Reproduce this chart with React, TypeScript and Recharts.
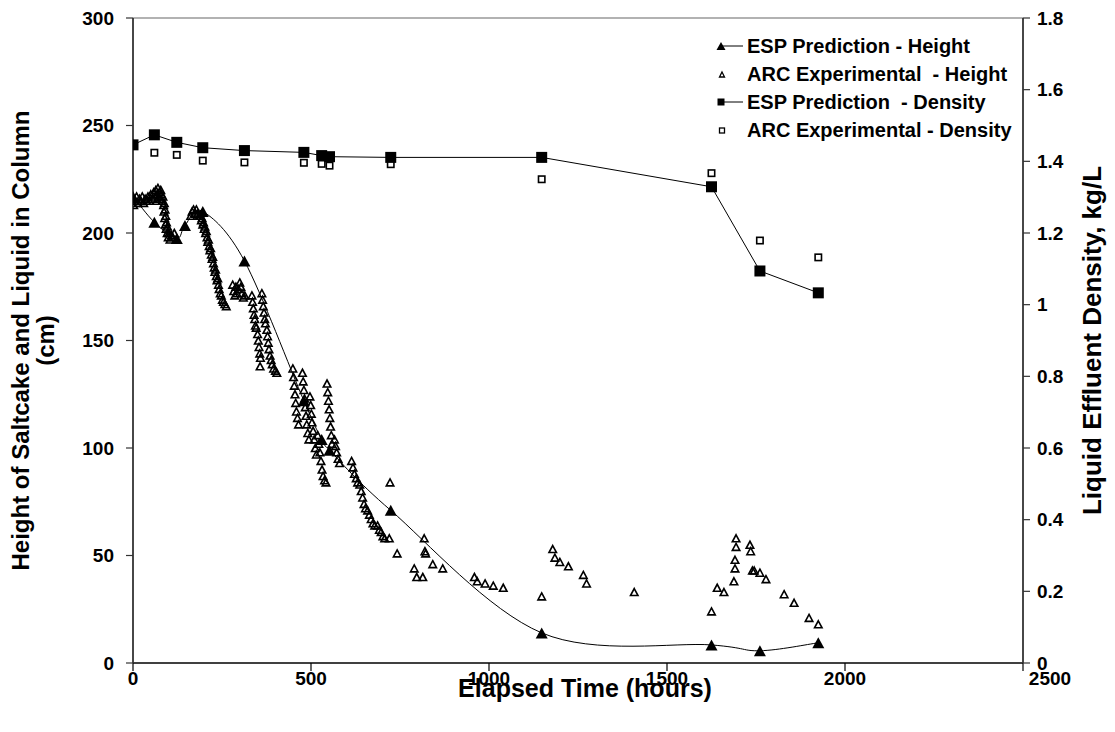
import React from 'react';
import { ComposedChart, XAxis, YAxis, Scatter, Line, Legend, ReferenceLine, Label } from 'recharts';

const FONT = '"Liberation Sans", Arial, Helvetica, sans-serif';

// ---- Data ----
const xTicks = [0, 500, 1000, 1500, 2000, 2500];
const leftTicks = [0, 50, 100, 150, 200, 250, 300];
const rightTicks = [0, 0.2, 0.4, 0.6, 0.8, 1, 1.2, 1.4, 1.6, 1.8];

// ESP Prediction - Height (hours, cm)
const espHeightT = [0, 60, 123, 146, 196, 313, 480, 530, 552, 724, 1148, 1625, 1761, 1925];
const espHeightV = [217, 205, 197.5, 203.5, 210, 187, 122, 104, 99, 71, 14, 8.4, 5.7, 9.4];

// ARC Experimental - Height [hours, cm]
const arcHeightPts: [number, number][] = [
  [0, 216], [2, 213], [6, 215], [10, 217], [14, 214], [18, 216], [22, 215], [26, 217], [30, 214], [34, 216],
  [38, 215], [42, 217], [46, 215], [50, 218], [54, 216], [58, 219], [62, 217], [64, 220], [66, 215], [68, 218],
  [70, 221], [72, 217], [74, 219], [76, 216], [78, 220], [80, 218], [82, 215], [84, 217], [86, 213], [87, 210],
  [88, 214], [89, 207], [90, 211], [91, 204], [92, 208], [93, 202], [94, 205], [96, 200], [97, 203], [99, 198],
  [101, 200], [104, 197], [108, 199], [112, 198], [116, 200],
  [162, 208], [166, 210], [170, 211], [174, 209], [178, 211], [182, 209], [186, 208],
  [190, 208], [192, 206], [194, 207], [196, 204], [198, 205], [200, 202], [202, 203], [204, 200], [206, 201],
  [208, 198], [210, 196], [212, 197], [214, 194], [216, 192], [218, 193], [220, 190], [222, 188], [224, 189],
  [226, 186], [228, 184], [230, 182], [232, 183], [234, 180], [236, 178], [238, 179], [240, 176], [242, 174],
  [245, 172], [248, 171], [251, 169], [254, 168], [258, 167], [262, 166],
  [280, 176], [283, 173], [286, 171], [289, 175], [292, 172], [296, 174], [300, 177], [303, 175], [306, 172],
  [310, 170], [314, 171],
  [334, 171], [336, 168], [338, 165], [340, 162], [342, 160], [344, 157], [346, 156],
  [350, 153], [352, 150], [354, 147], [356, 144], [358, 142], [357, 138],
  [362, 172], [364, 169], [366, 166], [368, 163], [370, 160], [372, 158],
  [376, 155], [378, 152], [380, 149], [382, 146], [385, 143], [388, 141], [391, 139], [395, 137], [400, 136], [404, 135],
  [449, 137], [451, 133], [453, 129], [455, 125], [457, 121], [459, 117], [462, 114], [465, 111],
  [476, 135], [478, 131], [480, 127], [482, 123], [484, 119], [486, 115], [488, 111], [491, 107], [494, 104],
  [497, 124], [499, 120], [501, 116], [503, 112], [506, 108], [509, 104], [512, 100], [515, 97],
  [519, 106], [522, 102], [525, 98], [528, 94], [531, 90], [534, 87], [538, 85], [542, 84],
  [545, 130], [547, 126], [549, 122], [551, 118], [553, 114], [555, 110], [557, 106], [559, 102],
  [566, 104], [569, 101], [572, 98], [576, 95], [580, 93],
  [614, 94], [618, 91], [622, 88], [627, 86], [631, 84],
  [637, 83], [641, 80], [645, 77], [649, 74], [653, 72],
  [659, 71], [664, 69], [669, 67], [674, 65], [679, 64],
  [687, 64], [692, 62], [697, 61], [702, 59], [707, 58],
  [720, 58], [722, 84], [742, 51],
  [790, 44], [797, 40], [814, 40], [818, 58], [820, 52], [822, 51], [842, 46], [870, 44],
  [959, 40], [967, 38], [989, 37], [1012, 36], [1040, 35],
  [1148, 31], [1179, 53], [1185, 49], [1199, 47], [1223, 45], [1265, 41], [1274, 37], [1408, 33],
  [1625, 24], [1641, 35], [1660, 33], [1688, 38], [1691, 44], [1691, 48], [1694, 54], [1694, 58],
  [1733, 55], [1735, 52], [1740, 43], [1745, 43], [1761, 42], [1778, 39], [1829, 32], [1857, 28],
  [1899, 21], [1925, 18],
];

// ESP Prediction - Density (hours, kg/L)
const espDensityT = [0, 60, 123, 196, 313, 480, 530, 552, 724, 1148, 1625, 1761, 1925];
const espDensityV = [1.446, 1.474, 1.453, 1.438, 1.43, 1.425, 1.416, 1.413, 1.411, 1.411, 1.329, 1.094, 1.033];

// ARC Experimental - Density (hours, kg/L)
const arcDensityT = [60, 123, 196, 313, 480, 530, 552, 724, 1148, 1625, 1761, 1925];
const arcDensityV = [1.424, 1.418, 1.402, 1.397, 1.396, 1.393, 1.388, 1.392, 1.35, 1.367, 1.179, 1.132];

const espHeight = espHeightT.map((t, i) => ({ t, h: espHeightV[i] }));
const arcHeight = arcHeightPts.map(([t, h]) => ({ t, h }));
const espDensity = espDensityT.map((t, i) => ({ t, d: espDensityV[i] }));
const arcDensity = arcDensityT.map((t, i) => ({ t, d: arcDensityV[i] }));

// Excel-like smoothing (Catmull-Rom) curve factory
const catmullRom = (context: any) => {
  let pts: number[][] = [];
  return {
    areaStart() {},
    areaEnd() {},
    lineStart() {
      pts = [];
    },
    point(x: number, y: number) {
      pts.push([+x, +y]);
    },
    lineEnd() {
      const n = pts.length;
      if (!n) return;
      context.moveTo(pts[0][0], pts[0][1]);
      for (let i = 0; i < n - 1; i++) {
        const p0 = pts[Math.max(i - 1, 0)];
        const p1 = pts[i];
        const p2 = pts[i + 1];
        const p3 = pts[Math.min(i + 2, n - 1)];
        context.bezierCurveTo(
          p1[0] + (p2[0] - p0[0]) / 6,
          p1[1] + (p2[1] - p0[1]) / 6,
          p2[0] - (p3[0] - p1[0]) / 6,
          p2[1] - (p3[1] - p1[1]) / 6,
          p2[0],
          p2[1]
        );
      }
    },
  };
};

// ---- Marker shapes ----
const triPath = (cx: number, cy: number, w: number, h: number) =>
  `M${cx},${cy - h / 2}L${cx + w / 2},${cy + h / 2}L${cx - w / 2},${cy + h / 2}Z`;

const FilledTriangleDot = (props: any) => {
  const { cx, cy, index } = props;
  if (cx == null || cy == null) return <g key={`ft${index}`} />;
  return <path key={`ft${index}`} d={triPath(cx, cy, 12, 11)} fill="#000" stroke="none" />;
};

const FilledSquareDot = (props: any) => {
  const { cx, cy, index } = props;
  if (cx == null || cy == null) return <g key={`fs${index}`} />;
  return <rect key={`fs${index}`} x={cx - 5.5} y={cy - 5.5} width={11} height={11} fill="#000" />;
};

const OpenTriangle = (props: any) => {
  const { cx, cy } = props;
  if (cx == null || cy == null) return <g />;
  return <path d={triPath(cx, cy, 7.5, 7)} fill="none" stroke="#000" strokeWidth={1.6} strokeLinejoin="miter" />;
};

const OpenSquare = (props: any) => {
  const { cx, cy } = props;
  if (cx == null || cy == null) return <g />;
  return <rect x={cx - 3.2} y={cy - 3.2} width={6.4} height={6.4} fill="#fff" stroke="#000" strokeWidth={1.6} />;
};

// ---- Ticks ----
const XTick = (props: any) => {
  const { x, y, payload } = props;
  const shift = payload.value === 2500 ? 27 : 0;
  return (
    <text x={x + shift} y={y} dy="0.71em" textAnchor="middle" fontFamily={FONT} fontWeight="bold" fontSize={19} fill="#000">
      {payload.value}
    </text>
  );
};

const tickStyle = { fontFamily: FONT, fontWeight: 'bold', fontSize: 19, fill: '#000' } as any;

// ---- Legend ----
const legendRows = [
  { label: 'ESP Prediction - Height', icon: 'ftri' },
  { label: 'ARC Experimental  - Height', icon: 'otri' },
  { label: 'ESP Prediction  - Density', icon: 'fsq' },
  { label: 'ARC Experimental - Density', icon: 'osq' },
];

const LegendIcon = ({ kind }: { kind: string }) => (
  <svg width={31} height={28} style={{ display: 'block' }}>
    {kind === 'ftri' && (
      <g>
        <line x1={7} y1={14} x2={29} y2={14} stroke="#000" strokeWidth={1} />
        <path d={triPath(7, 14, 9, 8)} fill="#000" />
      </g>
    )}
    {kind === 'otri' && <path d={triPath(8, 14.5, 5, 5)} fill="none" stroke="#000" strokeWidth={1.3} />}
    {kind === 'fsq' && (
      <g>
        <line x1={7} y1={14} x2={29} y2={14} stroke="#000" strokeWidth={1} />
        <rect x={3.5} y={10.5} width={7} height={7} fill="#000" />
      </g>
    )}
    {kind === 'osq' && <rect x={5.5} y={12} width={5} height={5} fill="#fff" stroke="#000" strokeWidth={1.3} />}
  </svg>
);

const CustomLegend = () => (
  <div style={{ fontFamily: FONT, fontWeight: 'bold', fontSize: 20, color: '#000' }}>
    {legendRows.map((r) => (
      <div key={r.label} style={{ display: 'flex', alignItems: 'center', height: 28 }}>
        <LegendIcon kind={r.icon} />
        <span style={{ whiteSpace: 'pre', marginLeft: 2 }}>{r.label}</span>
      </div>
    ))}
  </div>
);

// ---- Axis titles ----
const XTitle = (props: any) => {
  const vb = props.viewBox || { x: 125, y: 655, width: 890, height: 61 };
  return (
    <text x={vb.x + vb.width / 2 + 7} y={vb.y + 34} textAnchor="middle" fontFamily={FONT} fontWeight="bold" fontSize={25} fill="#000">
      Elapsed Time (hours)
    </text>
  );
};

const LeftTitle = (props: any) => {
  const vb = props.viewBox || { x: 0, y: 10, width: 125, height: 645 };
  const cy = vb.y + vb.height / 2;
  return (
    <g>
      <text transform={`translate(${vb.x + 21},${cy}) rotate(-90)`} textAnchor="middle" fontFamily={FONT} fontWeight="bold" fontSize={24} fill="#000">
        Height of Saltcake and Liquid in Column
      </text>
      <text transform={`translate(${vb.x + 46},${cy}) rotate(-90)`} textAnchor="middle" fontFamily={FONT} fontWeight="bold" fontSize={24} fill="#000">
        (cm)
      </text>
    </g>
  );
};

const RightTitle = (props: any) => {
  const vb = props.viewBox || { x: 1015, y: 10, width: 84, height: 645 };
  const cy = vb.y + vb.height / 2;
  return (
    <text transform={`translate(${vb.x + 78},${cy}) rotate(-90)`} textAnchor="middle" fontFamily={FONT} fontWeight="bold" fontSize={26} fill="#000">
      Liquid Effluent Density, kg/L
    </text>
  );
};

export default function App() {
  return (
    <div style={{ width: 1099, height: 716, background: '#fff' }}>
      <ComposedChart width={1099} height={716} margin={{ top: 10, right: 0, bottom: 0, left: 0 }}>
        <XAxis
          type="number"
          dataKey="t"
          domain={[0, 2500]}
          ticks={xTicks}
          allowDataOverflow
          height={61}
          axisLine={{ stroke: '#000', strokeWidth: 1.5 }}
          tickLine={{ stroke: '#000', strokeWidth: 1.2 }}
          tickSize={8}
          tickMargin={1}
          tick={<XTick />}
          interval={0}
        >
          <Label content={<XTitle />} />
        </XAxis>
        <YAxis
          yAxisId="left"
          type="number"
          dataKey="h"
          domain={[0, 300]}
          ticks={leftTicks}
          allowDataOverflow
          width={125}
          axisLine={{ stroke: '#333', strokeWidth: 1.8 }}
          tickLine={{ stroke: '#333', strokeWidth: 1.2 }}
          tickSize={7}
          tickMargin={12}
          tick={tickStyle}
          interval={0}
        >
          <Label content={<LeftTitle />} />
        </YAxis>
        <YAxis
          yAxisId="right"
          orientation="right"
          type="number"
          dataKey="d"
          domain={[0, 1.8]}
          ticks={rightTicks}
          allowDataOverflow
          width={84}
          axisLine={{ stroke: '#333', strokeWidth: 1.8 }}
          tickLine={{ stroke: '#333', strokeWidth: 1.2 }}
          tickSize={7}
          tickMargin={7}
          tick={tickStyle}
          interval={0}
        >
          <Label content={<RightTitle />} />
        </YAxis>
        <ReferenceLine yAxisId="left" y={300} stroke="#999" strokeWidth={1.5} />
        <Scatter yAxisId="left" name="ARC Experimental  - Height" data={arcHeight} dataKey="h" shape={<OpenTriangle />} isAnimationActive={false} />
        <Line
          yAxisId="left"
          name="ESP Prediction - Height"
          data={espHeight}
          dataKey="h"
          type={catmullRom as any}
          stroke="#000"
          strokeWidth={1}
          dot={FilledTriangleDot}
          activeDot={false}
          isAnimationActive={false}
        />
        <Scatter yAxisId="right" name="ARC Experimental - Density" data={arcDensity} dataKey="d" shape={<OpenSquare />} isAnimationActive={false} />
        <Line
          yAxisId="right"
          name="ESP Prediction  - Density"
          data={espDensity}
          dataKey="d"
          type="linear"
          stroke="#000"
          strokeWidth={1}
          dot={FilledSquareDot}
          activeDot={false}
          isAnimationActive={false}
        />
        <Legend
          layout="vertical"
          align="center"
          verticalAlign="middle"
          content={<CustomLegend />}
          wrapperStyle={{ top: 24, left: 706, width: 320 }}
        />
      </ComposedChart>
    </div>
  );
}
